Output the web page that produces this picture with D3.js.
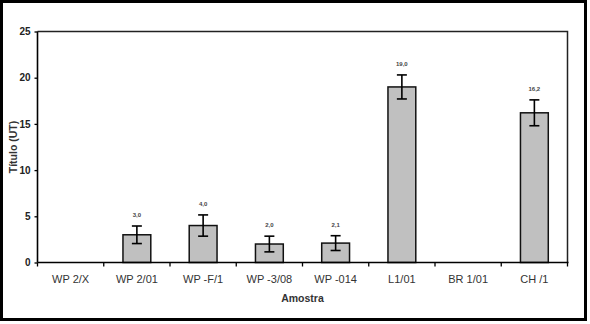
<!DOCTYPE html>
<html>
<head>
<meta charset="utf-8">
<script src="https://cdn.jsdelivr.net/npm/d3@7"></script>
<style>
  html, body { margin: 0; padding: 0; background: #fff; }
  svg { display: block; }
  text { font-family: "Liberation Sans", Arial, sans-serif; }
</style>
</head>
<body>
<svg id="chart" width="590" height="324"></svg>
<script>
// Título por amostra, com barras de erro
const categories = ["WP 2/X", "WP 2/01", "WP -F/1", "WP -3/08", "WP -014", "L1/01", "BR 1/01", "CH /1"];
const values     = [null, 3.0, 4.0, 2.0, 2.1, 19.0, null, 16.2];
const errors     = [null, 0.95, 1.15, 0.85, 0.8, 1.3, null, 1.4];
const valueLabels = [null, "3,0", "4,0", "2,0", "2,1", "19,0", null, "16,2"];
const yTicks = [0, 5, 10, 15, 20, 25];

const svg = d3.select("#chart");

// outer frame
svg.append("rect")
  .attr("x", 1.5).attr("y", 1.5)
  .attr("width", 584).attr("height", 318)
  .attr("fill", "#fff").attr("stroke", "#000").attr("stroke-width", 3);

const plot = { left: 37.5, right: 567.5, top: 31.5, bottom: 262.5 };

const x = d3.scaleBand().domain(categories).range([plot.left, plot.right]).paddingInner(0).paddingOuter(0);
const y = d3.scaleLinear().domain([0, 25]).range([plot.bottom, plot.top]);

// plot area border (top and right)
svg.append("path")
  .attr("d", `M${plot.left},${plot.top}H${plot.right}V${plot.bottom}`)
  .attr("fill", "none").attr("stroke", "#222").attr("stroke-width", 1.5);

// bars
const bw = x.bandwidth() * 0.42;
const data = categories.map((c, i) => ({ c, v: values[i], e: errors[i], l: valueLabels[i] })).filter(d => d.v != null);

svg.append("g").selectAll("rect").data(data).join("rect")
  .attr("x", d => x(d.c) + x.bandwidth() / 2 - bw / 2)
  .attr("y", d => y(d.v))
  .attr("width", bw)
  .attr("height", d => y(0) - y(d.v))
  .attr("fill", "#c0c0c0")
  .attr("stroke", "#111")
  .attr("stroke-width", 1.5);

// error bars
const eg = svg.append("g").attr("stroke", "#000").attr("stroke-width", 1.6);
data.forEach(d => {
  const cx = x(d.c) + x.bandwidth() / 2;
  eg.append("line").attr("x1", cx).attr("x2", cx).attr("y1", y(d.v + d.e)).attr("y2", y(d.v - d.e));
  eg.append("line").attr("x1", cx - 5).attr("x2", cx + 5).attr("y1", y(d.v + d.e)).attr("y2", y(d.v + d.e));
  eg.append("line").attr("x1", cx - 5).attr("x2", cx + 5).attr("y1", y(d.v - d.e)).attr("y2", y(d.v - d.e));
});

// value labels
svg.append("g").selectAll("text").data(data).join("text")
  .attr("x", d => x(d.c) + x.bandwidth() / 2)
  .attr("y", d => y(d.v + d.e) - 9)
  .attr("text-anchor", "middle")
  .attr("font-size", 6)
  .attr("font-weight", "bold")
  .attr("fill", "#444")
  .text(d => d.l);

// y axis
const yAxis = d3.axisLeft(y).tickValues(yTicks).tickSize(3).tickPadding(4).tickFormat(d3.format("d"));
const yg = svg.append("g").attr("transform", `translate(${plot.left},0)`).call(yAxis);
yg.select(".domain").attr("stroke", "#000").attr("stroke-width", 1.6).attr("d", `M0,${plot.bottom}V${plot.top}`);
yg.selectAll(".tick line").attr("stroke", "#000").attr("stroke-width", 1.3);
yg.selectAll("text").attr("font-size", 10).attr("fill", "#222").attr("font-weight", "bold");

// x axis: ticks between categories
const xg = svg.append("g").attr("transform", `translate(0,${plot.bottom})`);
xg.append("line").attr("x1", plot.left).attr("x2", plot.right + 1).attr("y1", 0).attr("y2", 0)
  .attr("stroke", "#000").attr("stroke-width", 1.6);
const bounds = categories.map(c => x(c)).concat([plot.right]);
xg.selectAll("line.t").data(bounds).join("line").attr("class", "t")
  .attr("x1", d => d).attr("x2", d => d).attr("y1", 0).attr("y2", 4)
  .attr("stroke", "#000").attr("stroke-width", 1.3);
xg.selectAll("text").data(categories).join("text")
  .attr("x", d => x(d) + x.bandwidth() / 2)
  .attr("y", 20.5)
  .attr("text-anchor", "middle")
  .attr("font-size", 11)
  .attr("fill", "#333")
  .text(d => d);

// axis titles
svg.append("text")
  .attr("x", (plot.left + plot.right) / 2)
  .attr("y", 302)
  .attr("text-anchor", "middle")
  .attr("font-size", 10.5)
  .attr("font-weight", "bold")
  .attr("fill", "#333")
  .text("Amostra");

svg.append("text")
  .attr("transform", `translate(17,${(plot.top + plot.bottom) / 2}) rotate(-90)`)
  .attr("text-anchor", "middle")
  .attr("font-size", 10.5)
  .attr("font-weight", "bold")
  .attr("fill", "#333")
  .text("Título (UT)");
</script>
</body>
</html>
